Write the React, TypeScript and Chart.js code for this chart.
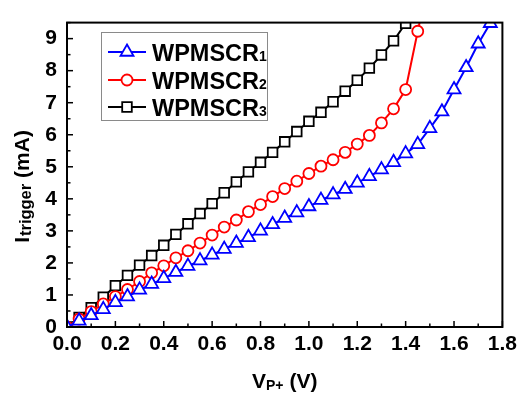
import React, { useEffect, useRef } from "react";
import { Chart, registerables } from "chart.js";

Chart.register(...registerables);

// Voltage steps (V) for each series
const vBlue = [0, 0.05, 0.1, 0.15, 0.2, 0.25, 0.3, 0.35, 0.4, 0.45, 0.5, 0.55, 0.6, 0.65, 0.7, 0.75, 0.8, 0.85, 0.9, 0.95, 1.0, 1.05, 1.1, 1.15, 1.2, 1.25, 1.3, 1.35, 1.4, 1.45, 1.5, 1.55, 1.6, 1.65, 1.7, 1.75];
const iBlue = [0, 0.19, 0.36, 0.55, 0.77, 0.95, 1.16, 1.34, 1.52, 1.71, 1.9, 2.07, 2.25, 2.43, 2.62, 2.8, 3.0, 3.2, 3.4, 3.57, 3.76, 3.96, 4.13, 4.3, 4.5, 4.7, 4.91, 5.14, 5.41, 5.7, 6.2, 6.72, 7.41, 8.1, 8.84, 9.48];

const vRed = [0, 0.05, 0.1, 0.15, 0.2, 0.25, 0.3, 0.35, 0.4, 0.45, 0.5, 0.55, 0.6, 0.65, 0.7, 0.75, 0.8, 0.85, 0.9, 0.95, 1.0, 1.05, 1.1, 1.15, 1.2, 1.25, 1.3, 1.35, 1.4, 1.45, 1.5];
const iRed = [0, 0.25, 0.48, 0.72, 0.95, 1.17, 1.42, 1.69, 1.91, 2.16, 2.38, 2.62, 2.87, 3.12, 3.34, 3.6, 3.82, 4.07, 4.32, 4.55, 4.79, 5.02, 5.22, 5.45, 5.71, 5.98, 6.37, 6.81, 7.41, 9.23, 11.0];

const vBlack = [0, 0.05, 0.1, 0.15, 0.2, 0.25, 0.3, 0.35, 0.4, 0.45, 0.5, 0.55, 0.6, 0.65, 0.7, 0.75, 0.8, 0.85, 0.9, 0.95, 1.0, 1.05, 1.1, 1.15, 1.2, 1.25, 1.3, 1.35, 1.4];
const iBlack = [0, 0.3, 0.6, 0.93, 1.29, 1.61, 1.93, 2.23, 2.55, 2.89, 3.22, 3.54, 3.85, 4.19, 4.53, 4.84, 5.14, 5.45, 5.78, 6.1, 6.42, 6.7, 7.03, 7.36, 7.7, 8.08, 8.49, 8.93, 9.48];

const seriesNames = ["WPMSCR", "WPMSCR", "WPMSCR"];
const seriesSubs = ["1", "2", "3"];
const seriesColors = ["#0000ff", "#ff0000", "#000000"];
const seriesMarkers = ["triangle", "circle", "rect"];

const xTickValues = [0, 0.2, 0.4, 0.6, 0.8, 1.0, 1.2, 1.4, 1.6, 1.8];
const yTickValues = [0, 1, 2, 3, 4, 5, 6, 7, 8, 9];
const xMin = 0, xMax = 1.8;
const yMin = 0, yMax = 9.5;

const FONT = "'Liberation Sans', Arial, sans-serif";

function toPts(xs: number[], ys: number[]) {
  return xs.map((x, i) => ({ x, y: ys[i] }));
}

function marker(ctx: CanvasRenderingContext2D, kind: string, x: number, y: number, color: string) {
  ctx.save();
  ctx.beginPath();
  if (kind === "triangle") {
    const r = 7.5;
    ctx.moveTo(x, y - r);
    ctx.lineTo(x + r * 0.866, y + r * 0.5);
    ctx.lineTo(x - r * 0.866, y + r * 0.5);
    ctx.closePath();
  } else if (kind === "circle") {
    ctx.arc(x, y, 5.5, 0, Math.PI * 2);
  } else {
    const s = 4.8;
    ctx.rect(x - s, y - s, 2 * s, 2 * s);
  }
  ctx.fillStyle = "#fff";
  ctx.fill();
  ctx.lineWidth = 1.8;
  ctx.strokeStyle = color;
  ctx.stroke();
  ctx.restore();
}

const decor = {
  id: "decor",
  afterDraw(chart: any) {
    const { ctx, chartArea: a, scales } = chart;
    const xs = scales.x, ys = scales.y;
    ctx.save();
    ctx.strokeStyle = "#000";
    ctx.lineWidth = 1.5;
    // inward major + minor ticks on x
    for (let i = 0; i < xTickValues.length; i++) {
      const v = xTickValues[i];
      const px = xs.getPixelForValue(v);
      ctx.beginPath();
      ctx.moveTo(px, a.bottom);
      ctx.lineTo(px, a.bottom - 6);
      ctx.stroke();
      if (i < xTickValues.length - 1) {
        const pm = xs.getPixelForValue((v + xTickValues[i + 1]) / 2);
        ctx.beginPath();
        ctx.moveTo(pm, a.bottom);
        ctx.lineTo(pm, a.bottom - 3.5);
        ctx.stroke();
      }
    }
    for (let i = 0; i < yTickValues.length; i++) {
      const v = yTickValues[i];
      const py = ys.getPixelForValue(v);
      ctx.beginPath();
      ctx.moveTo(a.left, py);
      ctx.lineTo(a.left + 6, py);
      ctx.stroke();
      const pm = ys.getPixelForValue(v + 0.5);
      ctx.beginPath();
      ctx.moveTo(a.left, pm);
      ctx.lineTo(a.left + 3.5, pm);
      ctx.stroke();
    }
    // frame
    ctx.lineWidth = 2;
    ctx.strokeRect(a.left, a.top, a.right - a.left, a.bottom - a.top);

    // x title: V_P+ (V)
    ctx.fillStyle = "#000";
    ctx.textBaseline = "alphabetic";
    ctx.textAlign = "left";
    const big = `bold 21px ${FONT}`;
    const small = `bold 14px ${FONT}`;
    ctx.font = big;
    const wV = ctx.measureText("V").width;
    ctx.font = small;
    const wP = ctx.measureText("P+").width;
    ctx.font = big;
    const wR = ctx.measureText(" (V)").width;
    const total = wV + wP + wR;
    const cx = (a.left + a.right) / 2;
    let xx = cx - total / 2;
    const by = 388;
    ctx.font = big; ctx.fillText("V", xx, by); xx += wV;
    ctx.font = small; ctx.fillText("P+", xx, by + 2); xx += wP;
    ctx.font = big; ctx.fillText(" (V)", xx, by);

    // y title: I_trigger (mA)
    ctx.save();
    ctx.translate(29, 187);
    ctx.rotate(-Math.PI / 2);
    const ysmall = `bold 16.5px ${FONT}`;
    ctx.font = big;
    const wI = ctx.measureText("I").width;
    ctx.font = ysmall;
    const wT = ctx.measureText("trigger").width;
    ctx.font = big;
    const wM = ctx.measureText(" (mA)").width;
    let yy = -(wI + wT + wM) / 2;
    ctx.font = big; ctx.fillText("I", yy, 0); yy += wI + 1;
    ctx.font = ysmall; ctx.fillText("trigger", yy, 2); yy += wT;
    ctx.font = big; ctx.fillText(" (mA)", yy, 0);
    ctx.restore();

    // legend
    const lx = 101, ly = 32, lw = 166, lh = 88;
    ctx.fillStyle = "#fff";
    ctx.fillRect(lx, ly, lw, lh);
    ctx.lineWidth = 1;
    ctx.strokeStyle = "#8a8a8a";
    ctx.strokeRect(lx + 0.5, ly + 0.5, lw, lh);
    const rows = [52, 80, 107];
    for (let k = 0; k < 3; k++) {
      const ry = rows[k];
      ctx.strokeStyle = seriesColors[k];
      ctx.lineWidth = 2;
      ctx.beginPath();
      ctx.moveTo(108, ry);
      ctx.lineTo(146, ry);
      ctx.stroke();
      marker(ctx, seriesMarkers[k], 127, ry, seriesColors[k]);
      ctx.fillStyle = "#000";
      ctx.font = `bold 23.5px ${FONT}`;
      ctx.fillText(seriesNames[k], 152, ry + 8.5);
      const wn = ctx.measureText(seriesNames[k]).width;
      ctx.font = `bold 14px ${FONT}`;
      ctx.fillText(seriesSubs[k], 152 + wn, ry + 9);
    }
    ctx.restore();
  },
};

export default function App() {
  const ref = useRef<HTMLCanvasElement | null>(null);
  useEffect(() => {
    document.body.style.margin = "0";
    const canvas = ref.current!;
    const mk = (i: number, xs: number[], ys: number[], radius: number) => ({
      label: seriesNames[i] + seriesSubs[i],
      data: toPts(xs, ys),
      borderColor: seriesColors[i],
      backgroundColor: "#ffffff",
      borderWidth: 2,
      pointStyle: seriesMarkers[i],
      pointRadius: radius,
      pointBorderWidth: 1.8,
      pointBackgroundColor: "#ffffff",
      pointBorderColor: seriesColors[i],
      tension: 0,
      fill: false,
    });
    const chart = new Chart(canvas, {
      type: "line",
      data: {
        datasets: [
          mk(0, vBlue, iBlue, 7.5),
          mk(1, vRed, iRed, 5.5),
          mk(2, vBlack, iBlack, 6.8),
        ],
      },
      options: {
        animation: false,
        responsive: false,
        layout: { padding: { top: 6, right: 16, left: 0, bottom: 0 } },
        plugins: { legend: { display: false }, tooltip: { enabled: false } },
        scales: {
          x: {
            type: "linear",
            min: xMin,
            max: xMax,
            grid: { display: false, drawTicks: false },
            border: { display: false },
            afterBuildTicks: (s: any) => { s.ticks = xTickValues.map((value) => ({ value })); },
            ticks: {
              padding: 5,
              color: "#000",
              font: { family: FONT, size: 21, weight: "bold" },
              callback: (v: any) => Number(v).toFixed(1),
              maxRotation: 0,
              autoSkip: false,
            },
            afterFit: (s: any) => { s.height = 72; },
          },
          y: {
            type: "linear",
            min: yMin,
            max: yMax,
            grid: { display: false, drawTicks: false },
            border: { display: false },
            afterBuildTicks: (s: any) => { s.ticks = yTickValues.map((value) => ({ value })); },
            ticks: {
              padding: 10,
              color: "#000",
              font: { family: FONT, size: 21, weight: "bold" },
              callback: (v: any) => String(v),
              autoSkip: false,
            },
            afterFit: (s: any) => { s.width = 67; },
          },
        },
      },
      plugins: [decor],
    } as any);
    return () => chart.destroy();
  }, []);
  return (
    <div style={{ position: "absolute", left: 0, top: 0, width: 522, height: 399 }}>
      <canvas ref={ref} width={522} height={399} />
    </div>
  );
}
